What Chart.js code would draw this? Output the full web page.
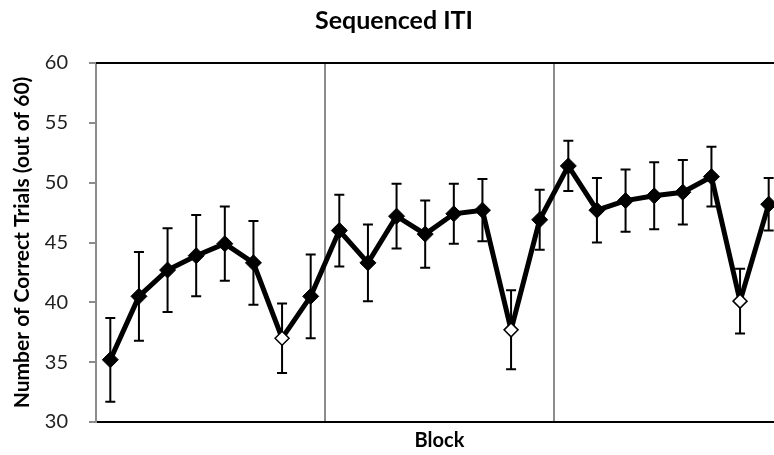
<!DOCTYPE html>
<html lang="en">
<head>
  <meta charset="UTF-8" />
  <title>Sequenced ITI</title>
  <script src="https://cdn.jsdelivr.net/npm/chart.js"></script>
  <style>
    body { margin: 0; background: #fff; overflow: hidden; }
    #wrap { width: 774px; height: 455px; overflow: hidden; }
  </style>
</head>
<body>
  <div id="wrap">
    <canvas id="itiChart" width="792" height="455"></canvas>
  </div>

  <script>
    // session labels (not shown on the axis)
    const sessions = ['1','2','3','4','5','6','7','8','9','10','11','12',
                      '13','14','15','16','17','18','19','20','21','22','23','24'];
    // mean correct trials out of 60
    const means = [35.2, 40.5, 42.7, 43.9, 44.9, 43.3, 37.0, 40.5,
                   46.0, 43.3, 47.2, 45.7, 47.4, 47.7, 37.7, 46.9,
                   51.4, 47.7, 48.5, 48.9, 49.2, 50.5, 40.1, 48.2];
    // error bar half-lengths
    const errors = [3.5, 3.7, 3.5, 3.4, 3.1, 3.5, 2.9, 3.5,
                    3.0, 3.2, 2.7, 2.8, 2.5, 2.6, 3.3, 2.5,
                    2.1, 2.7, 2.6, 2.8, 2.7, 2.5, 2.7, 2.2];
    // sessions drawn as open diamonds
    const openPoints = [false, false, false, false, false, false, true, false,
                        false, false, false, false, false, false, true, false,
                        false, false, false, false, false, false, true, false];
    // grid line index where a new block starts
    const blockStarts = [8, 16];
    const yTicks = [30, 35, 40, 45, 50, 55, 60];

    const errorBars = {
      id: 'errorBars',
      beforeDatasetsDraw(chart) {
        const ctx = chart.ctx;
        const meta = chart.getDatasetMeta(0);
        const y = chart.scales.y;
        ctx.save();
        ctx.strokeStyle = '#000';
        ctx.lineWidth = 2;
        meta.data.forEach((pt, i) => {
          const top = y.getPixelForValue(means[i] + errors[i]);
          const bot = y.getPixelForValue(means[i] - errors[i]);
          ctx.beginPath();
          ctx.moveTo(pt.x, top); ctx.lineTo(pt.x, bot);
          ctx.moveTo(pt.x - 5, top); ctx.lineTo(pt.x + 5, top);
          ctx.moveTo(pt.x - 5, bot); ctx.lineTo(pt.x + 5, bot);
          ctx.stroke();
        });
        ctx.restore();
      },
      afterDraw(chart) {
        // black frame line along the top of the plot
        const a = chart.chartArea;
        const ctx = chart.ctx;
        ctx.save();
        ctx.strokeStyle = '#000';
        ctx.lineWidth = 2;
        ctx.beginPath();
        ctx.moveTo(a.left, a.top);
        ctx.lineTo(a.right, a.top);
        ctx.stroke();
        ctx.restore();
      }
    };

    new Chart(document.getElementById('itiChart'), {
      type: 'line',
      data: {
        labels: sessions,
        datasets: [{
          data: means,
          borderColor: '#000',
          borderWidth: 5,
          tension: 0,
          pointStyle: 'rectRot',
          pointRadius: openPoints.map(o => o ? 7 : 8),
          pointBackgroundColor: openPoints.map(o => o ? '#fff' : '#000'),
          pointBorderColor: '#000',
          pointBorderWidth: openPoints.map(o => o ? 1.5 : 1)
        }]
      },
      options: {
        responsive: false,
        animation: false,
        layout: { padding: { left: 0, right: 4, top: 0, bottom: 0 } },
        plugins: {
          legend: { display: false },
          tooltip: { enabled: false },
          title: {
            display: true,
            text: 'Sequenced ITI',
            color: '#000',
            font: { family: 'Lato', size: 25, weight: 'bold' },
            padding: { top: 6, bottom: 27 }
          }
        },
        scales: {
          x: {
            offset: true,
            grid: {
              offset: true,
              drawTicks: false,
              lineWidth: 2,
              color: ctx => blockStarts.includes(ctx.index) ? '#8c8c8c' : 'rgba(0,0,0,0)'
            },
            border: { color: '#000', width: 2 },
            ticks: { display: false },
            title: {
              display: true,
              text: 'Block',
              color: '#000',
              font: { family: 'Lato', size: 20, weight: 'bold' },
              padding: { top: 0, bottom: 2 }
            },
            afterFit(scale) { scale.height = 33; }
          },
          y: {
            min: 30,
            max: 60,
            afterBuildTicks(scale) { scale.ticks = yTicks.map(v => ({ value: v })); },
            grid: { drawOnChartArea: false, drawTicks: true, tickLength: 7, color: '#8c8c8c', lineWidth: 2 },
            border: { color: '#8c8c8c', width: 2 },
            ticks: {
              color: '#222',
              padding: 21,
              font: { family: 'Lato', size: 20 }
            },
            title: {
              display: true,
              text: 'Number of Correct Trials (out of 60)',
              color: '#000',
              font: { family: 'Lato', size: 21, weight: 'bold' },
              padding: { top: 10, bottom: 0 }
            },
            afterFit(scale) { scale.width = 96; }
          }
        }
      },
      plugins: [errorBars]
    });
  </script>
</body>
</html>
